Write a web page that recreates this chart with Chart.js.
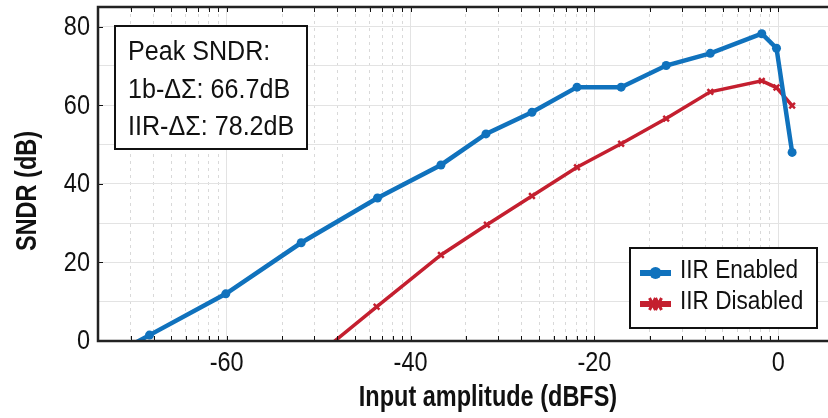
<!DOCTYPE html>
<html>
<head>
<meta charset="utf-8">
<script src="https://cdn.jsdelivr.net/npm/chart.js@4.4.1/dist/chart.umd.min.js"></script>
<style>
  html, body { margin: 0; padding: 0; background: #fff; overflow: hidden; }
  #wrap { width: 840px; height: 418px; }
</style>
</head>
<body>
<div id="wrap"><canvas id="sndrChart" width="840" height="418"></canvas></div>
<script>
// values
const enabledX = [-76, -68.4, -60.1, -51.9, -43.6, -36.7, -31.8, -26.8, -21.9, -17.1, -12.2, -7.4, -1.8, -0.2, 1.5];
const enabledY = [-8.2, 1.5, 12.0, 25.0, 36.4, 44.8, 52.7, 58.2, 64.6, 64.6, 70.1, 73.2, 78.2, 74.5, 48.0];
const disabledX = [-51.9, -43.7, -36.7, -31.7, -26.8, -21.9, -17.1, -12.2, -7.4, -1.8, -0.2, 1.5];
const disabledY = [-7.0, 8.7, 21.9, 29.6, 36.9, 44.2, 50.2, 56.6, 63.4, 66.2, 64.5, 59.9];
const seriesLabels = ['IIR Enabled', 'IIR Disabled'];
const xMajorTicks = [-60, -40, -20, 0];
const yTicks = [0, 10, 20, 30, 40, 50, 60, 70, 80];
const noteLines = ['Peak SNDR:', '1b-\u0394\u03A3: 66.7dB', 'IIR-\u0394\u03A3: 78.2dB'];
const xTitle = 'Input amplitude (dBFS)';
const yTitle = 'SNDR (dB)';

// no narrow face installed, so Liberation Sans gets squeezed like Helvetica Narrow
const FONT = "'Liberation Sans', Arial, sans-serif";
const BLUE = '#1072bd';
const RED = '#c41f2f';
const INK = '#111';
const X_MIN = -74, X_MAX = 6;

const toPoints = (xs, ys) => xs.map((x, i) => ({ x: x, y: ys[i] }));

// minor vertical grid follows a log pattern inside each 20 dB decade
function minorTicks(min, max) {
  const out = [];
  for (let base = -80; base <= 0; base += 20) {
    for (let k = 2; k <= 9; k++) {
      const v = base + 20 * Math.log10(k);
      if (v > min && v < max) out.push({ value: v });
    }
  }
  return out;
}

function narrowText(ctx, s, x, y, align, squeeze) {
  ctx.save();
  ctx.translate(x, y);
  ctx.scale(squeeze, 1);
  ctx.textAlign = align;
  ctx.fillText(s, 0, 0);
  ctx.restore();
}

const decor = {
  id: 'decor',
  afterDraw(chart) {
    const ctx = chart.ctx;
    const a = chart.chartArea;
    const xs = chart.scales.x, x2 = chart.scales.x2, ys = chart.scales.y;
    ctx.save();

    // inward tick marks
    ctx.strokeStyle = INK;
    ctx.lineWidth = 1;
    ctx.beginPath();
    x2.ticks.concat(xs.ticks).forEach(t => {
      const px = Math.round(xs.getPixelForValue(t.value)) + 0.5;
      ctx.moveTo(px, a.bottom); ctx.lineTo(px, a.bottom - 5);
      ctx.moveTo(px, a.top); ctx.lineTo(px, a.top + 5);
    });
    ys.ticks.forEach(t => {
      if (t.value % 20 !== 0) return;
      const py = Math.round(ys.getPixelForValue(t.value)) + 0.5;
      ctx.moveTo(a.left, py); ctx.lineTo(a.left + 5, py);
      ctx.moveTo(a.right, py); ctx.lineTo(a.right - 5, py);
    });
    ctx.stroke();

    // frame
    ctx.lineWidth = 2.5;
    ctx.strokeStyle = '#222';
    ctx.strokeRect(a.left, a.top, a.right - a.left, a.bottom - a.top);

    // tick labels
    ctx.fillStyle = INK;
    ctx.textBaseline = 'middle';
    ctx.font = '27px ' + FONT;
    xs.ticks.forEach(t => narrowText(ctx, String(t.value), xs.getPixelForValue(t.value), 364, 'center', 0.87));
    ys.ticks.forEach(t => {
      if (t.value % 20 !== 0) return;
      narrowText(ctx, String(t.value), 90, ys.getPixelForValue(t.value) + 1, 'right', 0.87);
    });

    // peak note box
    ctx.fillStyle = '#fff';
    ctx.fillRect(115, 26, 192, 123);
    ctx.lineWidth = 2;
    ctx.strokeStyle = INK;
    ctx.strokeRect(115, 26, 192, 123);
    ctx.fillStyle = INK;
    noteLines.forEach((s, i) => narrowText(ctx, s, 128, 53 + i * 37.5, 'left', 0.93));

    // legend box
    ctx.fillStyle = '#fff';
    ctx.fillRect(630, 248, 187, 80);
    ctx.strokeRect(630, 248, 187, 80);
    ctx.font = '26px ' + FONT;
    chart.data.datasets.forEach((ds, i) => {
      const cy = 273 + i * 31;
      ctx.strokeStyle = ds.borderColor;
      ctx.lineWidth = 6;
      ctx.beginPath();
      ctx.moveTo(640, cy); ctx.lineTo(671, cy);
      ctx.stroke();
      ctx.fillStyle = ds.borderColor;
      if (i === 0) {
        ctx.beginPath();
        ctx.arc(655.5, cy, 6, 0, Math.PI * 2);
        ctx.fill();
      } else {
        ctx.lineWidth = 3;
        ctx.beginPath();
        [-3, 3].forEach(dx => {
          ctx.moveTo(655.5 + dx - 3, cy - 6); ctx.lineTo(655.5 + dx + 3, cy + 6);
          ctx.moveTo(655.5 + dx + 3, cy - 6); ctx.lineTo(655.5 + dx - 3, cy + 6);
        });
        ctx.stroke();
      }
      ctx.fillStyle = INK;
      narrowText(ctx, ds.label, 680, cy - 2, 'left', 0.87);
    });

    // axis titles
    ctx.font = 'bold 29px ' + FONT;
    narrowText(ctx, xTitle, 488, 398, 'center', 0.81);
    ctx.translate(28, 191);
    ctx.rotate(-Math.PI / 2);
    narrowText(ctx, yTitle, 0, 0, 'center', 0.81);
    ctx.restore();
  }
};

new Chart(document.getElementById('sndrChart').getContext('2d'), {
  type: 'line',
  data: {
    datasets: [{
      label: seriesLabels[0],
      data: toPoints(enabledX, enabledY),
      borderColor: BLUE,
      backgroundColor: BLUE,
      borderWidth: 4.5,
      pointRadius: 4.5,
      pointStyle: 'circle',
      pointBorderWidth: 0,
      tension: 0
    }, {
      label: seriesLabels[1],
      data: toPoints(disabledX, disabledY),
      borderColor: RED,
      backgroundColor: RED,
      borderWidth: 3.5,
      pointRadius: 4,
      pointStyle: 'crossRot',
      pointBorderWidth: 2.5,
      tension: 0
    }]
  },
  options: {
    responsive: false,
    animation: false,
    events: [],
    layout: { padding: { top: 7, right: 3, left: 0, bottom: 0 } },
    plugins: { legend: { display: false }, tooltip: { enabled: false } },
    scales: {
      x: {
        type: 'linear',
        min: X_MIN,
        max: X_MAX,
        afterBuildTicks: s => { s.ticks = xMajorTicks.map(v => ({ value: v })); },
        afterFit: s => { s.height = 77; },
        grid: { color: '#e3e3e3', lineWidth: 1, drawTicks: false },
        border: { display: false },
        ticks: { display: false }
      },
      x2: {
        type: 'linear',
        position: 'top',
        min: X_MIN,
        max: X_MAX,
        afterBuildTicks: s => { s.ticks = minorTicks(X_MIN, X_MAX); },
        afterFit: s => { s.height = 0; },
        grid: { color: '#d9d9d9', lineWidth: 1, drawTicks: false },
        border: { display: false, dash: [3, 4] },
        ticks: { display: false }
      },
      y: {
        min: 0,
        max: 85,
        afterBuildTicks: s => { s.ticks = yTicks.map(v => ({ value: v })); },
        afterFit: s => { s.width = 98; },
        grid: { color: '#e3e3e3', lineWidth: 1, drawTicks: false },
        border: { display: false },
        ticks: { display: false }
      }
    }
  },
  plugins: [decor]
});
</script>
</body>
</html>
